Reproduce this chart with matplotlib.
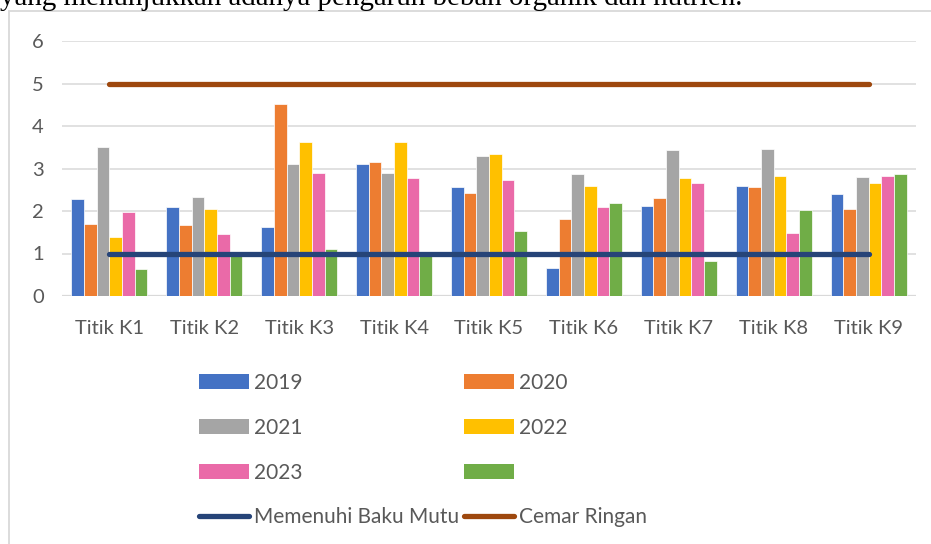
import numpy as np
import matplotlib.pyplot as plt
from matplotlib.patches import Rectangle, Patch
from matplotlib.lines import Line2D

# data
stations = ['Titik K1', 'Titik K2', 'Titik K3', 'Titik K4', 'Titik K5',
            'Titik K6', 'Titik K7', 'Titik K8', 'Titik K9']
years = ['2019', '2020', '2021', '2022', '2023', '']
v2019 = [2.28, 2.09, 1.62, 3.11, 2.56, 0.65, 2.12, 2.60, 2.39]
v2020 = [1.70, 1.66, 4.51, 3.15, 2.42, 1.81, 2.30, 2.56, 2.05]
v2021 = [3.50, 2.33, 3.11, 2.89, 3.29, 2.88, 3.43, 3.47, 2.80]
v2022 = [1.39, 2.05, 3.62, 3.62, 3.35, 2.60, 2.77, 2.82, 2.66]
v2023 = [1.98, 1.47, 2.90, 2.77, 2.73, 2.09, 2.65, 1.49, 2.82]
v2024 = [0.64, 0.97, 1.10, 0.97, 1.54, 2.19, 0.82, 2.02, 2.86]
baku_mutu = [1] * 9
cemar_ringan = [5] * 9

series = [v2019, v2020, v2021, v2022, v2023, v2024]
colors = ['#4472C4', '#ED7D31', '#A5A5A5', '#FFC000', '#EA6AA8', '#70AD47']
text_col = '#595959'
grid_col = '#D9D9D9'

plt.rcParams['font.family'] = ['Lato', 'DejaVu Sans']
fs = 14.5

W, H = 931, 544
fig = plt.figure(figsize=(W / 100, H / 100), dpi=100)

# outer chart frame (left/top edges visible, rest runs off the page)
fig.patches.append(Rectangle((9 / W, -0.1), 1.2, (H - 11) / H + 0.1,
                             transform=fig.transFigure, fill=False,
                             edgecolor=grid_col, linewidth=1.3))

# cropped paragraph line above the chart (cut at the top like the source)
cap = fig.text(0, 1 - 5 / H, 'yang menunjukkan adanya pengaruh beban organik dan nutrien.',
               family='Liberation Serif', fontsize=20, color='black',
               ha='left', va='baseline')
fig.canvas.draw()
w = cap.get_window_extent().width
cap.set_fontsize(20 * 744 / w)

ax = fig.add_axes([62 / W, (H - 296) / H, (916 - 62) / W, (296 - 41) / H])
x = np.arange(len(stations))
bw = 1 / 7.5
handles = []
for i, (vals, c) in enumerate(zip(series, colors)):
    ax.bar(x + (i - 2.5) * bw, vals, bw, color=c, edgecolor='white',
           linewidth=0.5, zorder=2)
    handles.append(Patch(facecolor=c))

ax.plot(x, baku_mutu, color='#264478', lw=3.8, solid_capstyle='round', zorder=3)
ax.plot(x, cemar_ringan, color='#9E480E', lw=3.8, solid_capstyle='round', zorder=3)

ax.set_xlim(-0.5, 8.5)
ax.set_ylim(0, 6)
ax.set_yticks(range(7))
ax.set_xticks(x)
ax.set_xticklabels(stations)
ax.yaxis.grid(True, color=grid_col, lw=1.1, zorder=0)
ax.set_axisbelow(True)
for s in ax.spines.values():
    s.set_visible(False)
ax.axhline(0, color=grid_col, lw=1.6, zorder=1)
ax.tick_params(length=0, labelsize=fs, labelcolor=text_col)
ax.tick_params(axis='y', pad=13)
ax.tick_params(axis='x', pad=17)

# legend: matplotlib fills column-wise, so reorder to get row-wise layout
leg_h = [handles[0], handles[2], handles[4],
         Line2D([], [], color='#264478', lw=3.8, solid_capstyle='round'),
         handles[1], handles[3], handles[5],
         Line2D([], [], color='#9E480E', lw=3.8, solid_capstyle='round')]
leg_l = ['2019', '2021', '2023', 'Memenuhi Baku Mutu',
         '2020', '2022', '', 'Cemar Ringan']
fig.legend(leg_h, leg_l, ncol=2, loc='upper left',
           bbox_to_anchor=(199 / W, 1 - 373 / H), frameon=False,
           fontsize=15, labelcolor=text_col, borderpad=0, borderaxespad=0,
           handlelength=2.4, handleheight=0.7, handletextpad=0.25,
           labelspacing=1.19, columnspacing=0.2)

fig.savefig('out.png', dpi=100)
